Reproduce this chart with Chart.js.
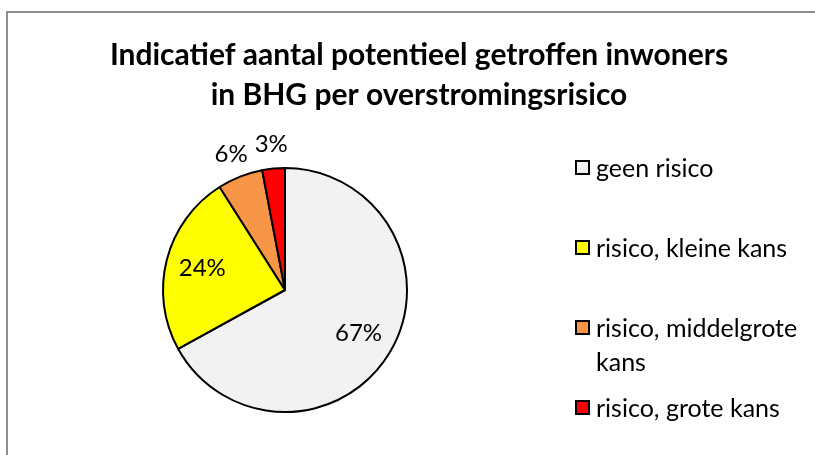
<!DOCTYPE html>
<html>
<head>
<meta charset="utf-8">
<script src="https://cdn.jsdelivr.net/npm/chart.js@4/dist/chart.umd.min.js"></script>
<style>
  body { margin: 0; background: #fff; }
  #wrap { position: relative; width: 815px; height: 455px; overflow: hidden; }
</style>
</head>
<body>
<div id="wrap"><canvas id="riskChart" width="815" height="455"></canvas></div>
<script>
// data
const titleLines = ['Indicatief aantal potentieel getroffen inwoners', 'in BHG per overstromingsrisico'];
const categories = ['geen risico', 'risico, kleine kans', 'risico, middelgrote kans', 'risico, grote kans'];
const shares = [67, 24, 6, 3];
const sliceColors = ['#f2f2f2', '#ffff00', '#f79646', '#ff0000'];

const FONT = 'Lato, "Liberation Sans", sans-serif';

// frame, title, slice labels and legend drawn on the canvas
const decorations = {
    id: 'decorations',
    beforeDraw(chart) {
        const ctx = chart.ctx;
        ctx.save();
        ctx.strokeStyle = '#8f8f8f';
        ctx.lineWidth = 2;
        ctx.strokeRect(7, 12, 900, 600);
        ctx.restore();
    },
    afterDraw(chart) {
        const ctx = chart.ctx;
        ctx.save();

        // title
        ctx.fillStyle = '#000';
        ctx.textAlign = 'center';
        ctx.textBaseline = 'middle';
        ctx.font = 'bold 30px ' + FONT;
        titleLines.forEach((line, i) => ctx.fillText(line, 419, 55 + i * 40));

        // percentage labels
        const meta = chart.getDatasetMeta(0);
        const total = shares.reduce((a, b) => a + b, 0);
        ctx.font = '24px ' + FONT;
        meta.data.forEach((arc, i) => {
            const p = arc.getProps(['x', 'y', 'startAngle', 'endAngle', 'outerRadius'], true);
            const mid = (p.startAngle + p.endAngle) / 2;
            const pct = shares[i] / total * 100;
            const r = pct >= 10 ? p.outerRadius * 0.7 : p.outerRadius * 1.2;
            ctx.fillText(Math.round(pct) + '%', p.x + Math.cos(mid) * r, p.y + Math.sin(mid) * r);
        });

        // legend
        const rowY = [168, 248, 328, 408];
        ctx.textAlign = 'left';
        ctx.font = '25px ' + FONT;
        categories.forEach((label, i) => {
            ctx.fillStyle = sliceColors[i];
            ctx.strokeStyle = '#000';
            ctx.lineWidth = 2;
            ctx.fillRect(576, rowY[i] - 7, 13, 13);
            ctx.strokeRect(576, rowY[i] - 7, 13, 13);
            // simple word wrap
            const words = label.split(' ');
            const lines = [];
            let cur = '';
            words.forEach(w => {
                const test = cur ? cur + ' ' + w : w;
                if (ctx.measureText(test).width > 212 && cur) {
                    lines.push(cur);
                    cur = w;
                } else {
                    cur = test;
                }
            });
            lines.push(cur);
            ctx.fillStyle = '#000';
            lines.forEach((l, j) => ctx.fillText(l, 596, rowY[i] + 1 + j * 34));
        });

        ctx.restore();
    }
};

new Chart(document.getElementById('riskChart'), {
    type: 'pie',
    data: {
        labels: categories,
        datasets: [{
            data: shares,
            backgroundColor: sliceColors,
            borderColor: '#000',
            borderWidth: 2
        }]
    },
    options: {
        responsive: false,
        animation: false,
        layout: {
            padding: { top: 167, bottom: 42, left: 162, right: 407 }
        },
        plugins: {
            legend: { display: false },
            title: { display: false },
            tooltip: { enabled: false }
        }
    },
    plugins: [decorations]
});
</script>
</body>
</html>
